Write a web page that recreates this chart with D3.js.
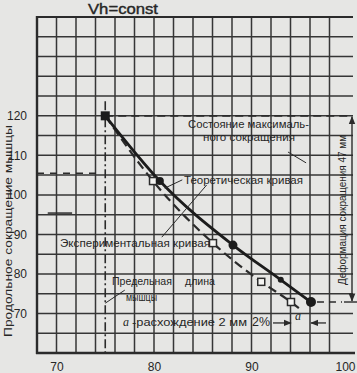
<!DOCTYPE html>
<html><head><meta charset="utf-8">
<script src="https://cdn.jsdelivr.net/npm/d3@7"></script>
<style>
body{margin:0;background:#e6e6e4;}
svg{display:block;}
text{font-family:"Liberation Sans Narrow","Liberation Sans",Arial,sans-serif;fill:#262626;}
</style>
</head><body>
<svg id="c" width="357" height="373"></svg>
<script>
// ---- data ----
const xTicks = [70, 80, 90, 100];
const yTicks = [70, 80, 90, 100, 110, 120];
// theoretical curve (solid, filled markers)
const theoX = [75, 80.6, 88.1, 93.0, 96.1];
const theoY = [120, 103.5, 87.3, 78.5, 72.9];
const theoR = [0, 4, 4.5, 3, 5];
// experimental curve (dashed, open squares)
const expX = [75, 79.9, 86.05, 91.0, 94.05];
const expY = [120, 103.5, 87.8, 78.0, 72.9];
const expTail = [95.0, 71.1];

const svg = d3.select('#c');
const x = d3.scaleLinear().domain([68, 100]).range([37, 349]);
const y = d3.scaleLinear().domain([60, 145]).range([353, 17]);
const ink = '#2b2b2b';

// grid
const gGrid = svg.append('g').attr('stroke', '#363636').attr('stroke-width', 1.5);
gGrid.selectAll('line.v').data(d3.range(70, 100, 2)).join('line')
  .attr('x1', d => x(d)).attr('x2', d => x(d)).attr('y1', y(145)).attr('y2', y(60));
gGrid.selectAll('line.h').data(d3.range(65, 146, 5)).join('line')
  .attr('x1', x(68)).attr('x2', 353).attr('y1', d => y(d)).attr('y2', d => y(d));
// frame
svg.append('line').attr('x1', x(68)).attr('x2', x(68)).attr('y1', y(145) - 1).attr('y2', y(60) + 1)
  .attr('stroke', ink).attr('stroke-width', 2.4);
svg.append('line').attr('x1', x(68) - 1).attr('x2', 355).attr('y1', y(60)).attr('y2', y(60))
  .attr('stroke', ink).attr('stroke-width', 2.4);
svg.append('line').attr('x1', x(68)).attr('x2', 353).attr('y1', y(145)).attr('y2', y(145))
  .attr('stroke', ink).attr('stroke-width', 1.8);

// axes (labels only)
const ax = svg.append('g').attr('transform', `translate(0,${y(60)})`)
  .call(d3.axisBottom(x).tickValues(xTicks).tickSize(0).tickPadding(9));
ax.select('.domain').remove();
ax.selectAll('text').attr('font-size', 12).attr('fill', ink)
  .attr('dx', d => d === 100 ? -4 : 0)
  .style('font-family', '"Liberation Sans Narrow","Liberation Sans",Arial,sans-serif');
const ay = svg.append('g').attr('transform', `translate(${x(68)},0)`)
  .call(d3.axisLeft(y).tickValues(yTicks).tickSize(0).tickPadding(10));
ay.select('.domain').remove();
ay.selectAll('text').attr('font-size', 12).attr('fill', ink)
  .style('font-family', '"Liberation Sans Narrow","Liberation Sans",Arial,sans-serif');

// reference lines
svg.append('line').attr('x1', x(75)).attr('x2', x(75)).attr('y1', y(123.7)).attr('y2', y(60))
  .attr('stroke', ink).attr('stroke-width', 1.6).attr('stroke-dasharray', '9,3,2,3');
svg.append('line').attr('x1', x(75)).attr('x2', 351).attr('y1', y(120)).attr('y2', y(120))
  .attr('stroke', ink).attr('stroke-width', 1.7).attr('stroke-dasharray', '8,5');
// left dashed marks
svg.append('line').attr('x1', x(68)).attr('x2', x(74.6)).attr('y1', y(105.5)).attr('y2', y(105.5))
  .attr('stroke', ink).attr('stroke-width', 1.5).attr('stroke-dasharray', '7,6');
svg.append('line').attr('x1', x(69.1)).attr('x2', x(71.6)).attr('y1', y(95.4)).attr('y2', y(95.4))
  .attr('stroke', ink).attr('stroke-width', 1.5);

// curves
const theo = theoX.map((v, i) => [v, theoY[i]]);
const exp = expX.map((v, i) => [v, expY[i]]);
const line = d3.line().x(d => x(d[0])).y(d => y(d[1])).curve(d3.curveMonotoneX);
svg.append('path').attr('d', line(exp.concat([expTail]))).attr('fill', 'none')
  .attr('stroke', ink).attr('stroke-width', 2.2).attr('stroke-dasharray', '9,5');
svg.append('path').attr('d', line(theo)).attr('fill', 'none')
  .attr('stroke', '#1c1c1c').attr('stroke-width', 2.8);

// markers
svg.selectAll('rect.exp').data(exp.slice(1)).join('rect')
  .attr('x', d => x(d[0]) - 3.5).attr('y', d => y(d[1]) - 3.5).attr('width', 7).attr('height', 7)
  .attr('fill', '#f4f4f2').attr('stroke', ink).attr('stroke-width', 1.5);
svg.selectAll('circle.th').data(theo.slice(1)).join('circle')
  .attr('cx', d => x(d[0])).attr('cy', d => y(d[1])).attr('r', (d, i) => theoR[i + 1])
  .attr('fill', '#1c1c1c');
svg.append('rect').attr('x', x(theoX[0]) - 4.5).attr('y', y(theoY[0]) - 4.5)
  .attr('width', 9).attr('height', 9).attr('fill', '#1c1c1c');

// leader lines
const leaders = [
  [[93.74, 110.85], [95.6, 108.1]],
  [[81.1, 101.7], [82.9, 103.8]],
  [[80.8, 89.3], [85.4, 102.5]],
  [[75.0, 72.6], [77.0, 75.9]]
];
svg.selectAll('line.ld').data(leaders).join('line')
  .attr('x1', d => x(d[0][0])).attr('y1', d => y(d[0][1]))
  .attr('x2', d => x(d[1][0])).attr('y2', d => y(d[1][1]))
  .attr('stroke', ink).attr('stroke-width', 1);

// arrow marker
const defs = svg.append('defs');
defs.append('marker').attr('id', 'ah').attr('viewBox', '0 0 10 10').attr('refX', 9).attr('refY', 5)
  .attr('markerWidth', 6).attr('markerHeight', 6).attr('orient', 'auto-start-reverse')
  .append('path').attr('d', 'M0,1 L10,5 L0,9 Z').attr('fill', ink);

// deformation dimension
svg.append('line').attr('x1', 352).attr('x2', 352).attr('y1', y(120) + 1).attr('y2', y(72.9) - 1)
  .attr('stroke', ink).attr('stroke-width', 1.4)
  .attr('marker-start', 'url(#ah)').attr('marker-end', 'url(#ah)');
svg.append('line').attr('x1', x(96.1) + 6).attr('x2', 342).attr('y1', y(72.9)).attr('y2', y(72.9))
  .attr('stroke', ink).attr('stroke-width', 1.4).attr('stroke-dasharray', '7,5');
svg.append('line').attr('x1', 344).attr('x2', 357).attr('y1', y(72.9)).attr('y2', y(72.9))
  .attr('stroke', ink).attr('stroke-width', 1.4);

// "a" dimension
svg.append('line').attr('x1', 273).attr('x2', x(94.05)).attr('y1', y(67.6)).attr('y2', y(67.6))
  .attr('stroke', ink).attr('stroke-width', 1.3).attr('marker-end', 'url(#ah)');
svg.append('line').attr('x1', 326).attr('x2', x(96.1)).attr('y1', y(67.6)).attr('y2', y(67.6))
  .attr('stroke', ink).attr('stroke-width', 1.3).attr('marker-end', 'url(#ah)');

// texts
function t(str, px, py, size, len, opts = {}) {
  const el = svg.append('text').attr('x', px).attr('y', py).attr('font-size', size).text(str);
  if (len) el.attr('textLength', len).attr('lengthAdjust', 'spacingAndGlyphs');
  if (opts.anchor) el.attr('text-anchor', opts.anchor);
  if (opts.italic) el.attr('font-style', 'italic');
  if (opts.rotate) el.attr('transform', `rotate(-90,${px},${py})`);
  if (opts.family) el.style('font-family', opts.family);
  if (opts.bold) el.attr('stroke', '#262626').attr('stroke-width', 0.4);
  return el;
}
t('Vh=const', 88, 14, 15, 70, {family: '"Liberation Sans",Arial,sans-serif', bold: true});
t('Состояние максималь-', 188, 128, 11, 121);
t('ного сокращения', 203, 141, 11, 92);
t('Теоретическая кривая', 184, 184, 11, 119);
t('Экспериментальная кривая', 60, 247, 11, 150);
t('Предельная', 112, 285, 11.5, 60);
t('длина', 185, 285, 11.5, 30);
t('мышцы', 126, 301, 11.5, 31);
t('a', 123, 326, 12, 0, {italic: true, family: '"Liberation Serif",serif'});
t('-расхождение 2 мм', 132, 326, 11, 115);
t('2%', 252, 326, 12, 18);
t('a', 295, 320, 12, 0, {italic: true, family: '"Liberation Serif",serif'});
t('Деформация сокращения 47 мм', 346, 285, 11, 150, {rotate: true});
t('Продольное сокращение мышцы', 12, 337, 11, 212, {rotate: true});
</script>
</body></html>
